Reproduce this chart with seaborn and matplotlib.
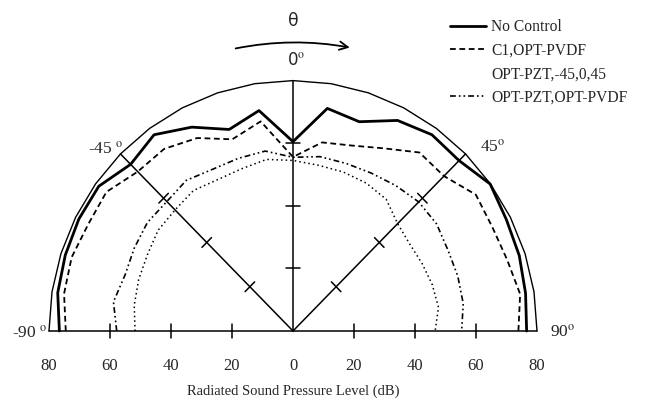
import numpy as np
import matplotlib
matplotlib.use("Agg")
import matplotlib.pyplot as plt
import seaborn as sns
from matplotlib.lines import Line2D
from matplotlib.patches import FancyArrowPatch

# Data: radiated SPL (dB) vs angle (deg), 9 degree steps from -90 to 90
angles = [-90, -81, -72, -63, -54, -45, -36, -27, -18, -9, 0,
          9, 18, 27, 36, 45, 54, 63, 72, 81, 90]
no_control = [76.6, 78.1, 78.5, 78.8, 78.7, 75.3, 77.5, 73.1, 67.7, 71.3, 60.5,
              72.0, 70.3, 75.5, 77.5, 77.0, 79.9, 78.5, 78.0, 77.2, 76.6]
c1_opt_pvdf = [74.5, 76.0, 76.3, 75.3, 75.6, 72.0, 71.9, 69.2, 64.4, 67.8, 55.6,
               61.0, 62.3, 65.5, 70.5, 70.0, 74.1, 73.3, 73.8, 75.4, 73.9]
pzt_45_0_45 = [51.8, 52.7, 53.2, 53.6, 54.7, 54.7, 55.5, 54.3, 54.5, 55.5, 54.5,
               53.6, 53.4, 53.0, 52.0, 48.5, 47.3, 47.5, 48.0, 48.3, 46.6]
pzt_pvdf = [57.8, 59.6, 57.9, 58.4, 59.0, 58.5, 59.5, 58.0, 58.0, 58.2, 55.5,
            56.4, 56.3, 56.6, 57.4, 58.3, 58.2, 57.0, 56.8, 56.5, 55.3]

labels = ["No Control", "C1,OPT-PVDF", "OPT-PZT,-45,0,45", "OPT-PZT,OPT-PVDF"]
r_max = 80
r_ticks = [20, 40, 60]
spokes = [-90, -45, 0, 45, 90]
tick_labels = [-80, -60, -40, -20, 0, 20, 40, 60, 80]

sns.set_theme(style="white")
plt.rcParams['font.family'] = ['Liberation Serif', 'DejaVu Serif']
plt.rcParams['mathtext.fontset'] = 'stix'


def to_xy(ang, r):
    th = np.deg2rad(np.asarray(ang, dtype=float))
    r = np.asarray(r, dtype=float)
    return r * np.sin(th), r * np.cos(th)


fig = plt.figure(figsize=(6.45, 4.07), dpi=100)
ax = fig.add_axes([0, 0, 1, 1])
# pixel mapping: centre at (293, 331), ~3.05 px/dB horizontally, 3.13 px/dB vertically
ax.set_xlim(-293 / 3.05, 352 / 3.05)
ax.set_ylim(-76 / 3.13, 331 / 3.13)
ax.axis('off')

# outer boundary
bx, by = to_xy(angles, [r_max] * len(angles))
ax.plot(bx, by, color='black', lw=1.0)

# spokes and their ticks
for a in spokes:
    sx, sy = to_xy([a, a], [0, r_max])
    ax.plot(sx, sy, color='black', lw=1.1)
    th = np.deg2rad(a)
    px, py = np.cos(th), -np.sin(th)
    for r in r_ticks:
        cx, cy = to_xy([a], [r])
        ax.plot([cx[0] - 2.2 * px, cx[0] + 2.2 * px],
                [cy[0] - 2.2 * py, cy[0] + 2.2 * py], color='black', lw=1.1)

# curves
styles = [
    dict(color='black', lw=2.0, linestyle='-'),
    dict(color='black', lw=1.3, linestyle=(0, (3.2, 2.0))),
    dict(color='black', lw=1.1, linestyle=(0, (1, 2.0))),
    dict(color='black', lw=1.2, linestyle=(0, (3.5, 1.8, 1, 1.8, 1, 1.8))),
]
for vals, st in zip([no_control, c1_opt_pvdf, pzt_45_0_45, pzt_pvdf], styles):
    x, y = to_xy(angles, vals)
    sns.lineplot(x=x, y=y, sort=False, estimator=None, ax=ax, **st)

# bottom scale labels
for v in tick_labels:
    ax.text(v, -11.2, str(abs(v)), ha='center', va='center', fontsize=12)
ax.text(0, -19.3, "Radiated Sound Pressure Level (dB)", ha='center', va='center', fontsize=10.5)

# angle labels
ax.text(-61.4, 58.0, r"-45 $^{\mathrm{o}}$", ha='center', va='center', fontsize=12.5)
ax.text(65.4, 58.8, r"45$^{\mathrm{o}}$", ha='center', va='center', fontsize=12.5)
ax.text(-86.4, -0.6, r"-90 $^{\mathrm{o}}$", ha='center', va='center', fontsize=12.5)
ax.text(88.4, -0.3, r"90$^{\mathrm{o}}$", ha='center', va='center', fontsize=12.5)
ax.text(1.0, 86.6, "0$^{\\mathrm{o}}$", ha='center', va='center', fontsize=12,
        family=['DejaVu Sans'])
ax.text(0, 99.0, "θ", ha='center', va='center', fontsize=12.5, family=['DejaVu Sans'])

arrow = FancyArrowPatch((-19.7, 90.1), (19.5, 90.4), connectionstyle='arc3,rad=-0.1',
                        arrowstyle='->,head_length=6,head_width=3', lw=1.3, color='black')
ax.add_patch(arrow)

# legend
handles = [Line2D([], [], **styles[0]), Line2D([], [], **styles[1]),
           Line2D([], [], linestyle='none'), Line2D([], [], **styles[3])]
ax.legend(handles, labels, loc='upper left', bbox_to_anchor=(450 / 645, 1 - 19 / 407),
          bbox_transform=fig.transFigure, frameon=False, fontsize=11.2,
          handlelength=2.3, handletextpad=0.35, labelspacing=0.49,
          borderpad=0, borderaxespad=0)

fig.savefig('out.png', dpi=100)
